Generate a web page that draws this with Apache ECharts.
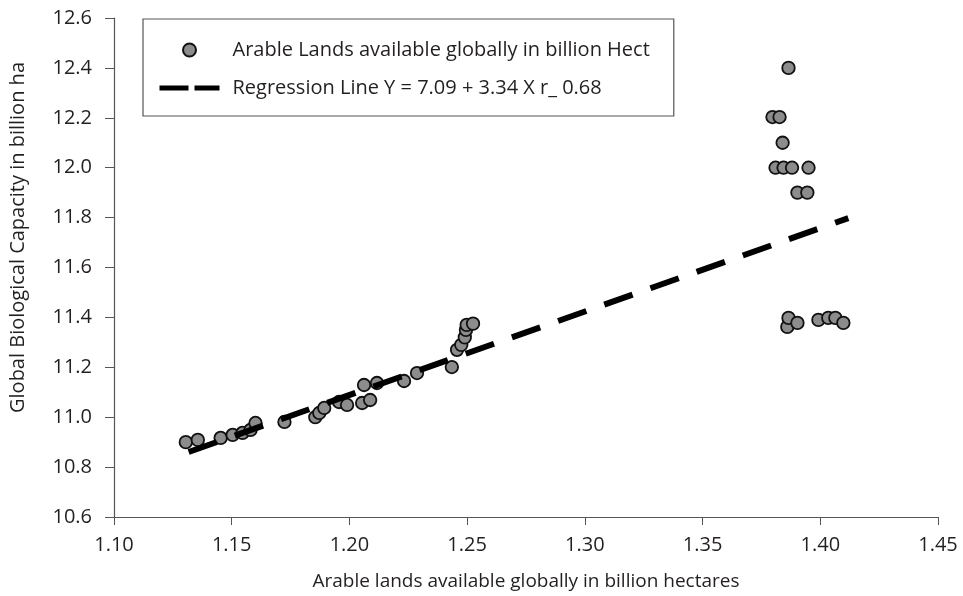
<!DOCTYPE html>
<html>
<head>
<meta charset="utf-8">
<title>Arable lands vs biological capacity</title>
<script src="https://cdn.jsdelivr.net/npm/echarts@6/dist/echarts.min.js"></script>
<style>
  html, body { margin: 0; padding: 0; background: #fff; }
  #chart { width: 963px; height: 596px; }
</style>
</head>
<body>
<div id="chart"></div>
<script>
// observed points (billion hectares, billion ha)
const arableLand = [
  1.1305, 1.1356, 1.1453, 1.1504, 1.1546, 1.1580, 1.1601, 1.1724,
  1.1855, 1.1872, 1.1893, 1.1956, 1.1990, 1.2054, 1.2088, 1.2062,
  1.2117, 1.2232, 1.2287, 1.2435, 1.2457, 1.2475, 1.2490, 1.2495,
  1.2498, 1.2525,
  1.3865, 1.3797, 1.3827, 1.3840, 1.3810, 1.3844, 1.3880, 1.3950,
  1.3903, 1.3945, 1.3860, 1.3865, 1.3903, 1.3992, 1.4034, 1.4064, 1.4098
]
const bioCapacity = [
  10.900, 10.909, 10.917, 10.929, 10.937, 10.949, 10.977, 10.981,
  11.000, 11.017, 11.037, 11.061, 11.049, 11.057, 11.069, 11.129,
  11.137, 11.145, 11.177, 11.201, 11.270, 11.290, 11.320, 11.350,
  11.370, 11.375,
  12.400, 12.203, 12.203, 12.100, 12.000, 12.000, 12.000, 12.000,
  11.900, 11.900, 11.362, 11.398, 11.378, 11.390, 11.398, 11.398, 11.378
]
// regression line end points as drawn
const regX = [1.1317, 1.4119]
const regY = [10.8605, 11.798]

const scatterName = 'Arable Lands available globally in billion Hect'
const lineName = 'Regression Line Y = 7.09 + 3.34 X r_ 0.68'

const FONT = 'Open Sans'
const TEXT = '#231f20'

const chart = echarts.init(document.getElementById('chart'), null, { renderer: 'canvas' })

chart.setOption({
  animation: false,
  backgroundColor: '#fff',
  textStyle: { fontFamily: FONT, color: TEXT },
  grid: { left: 111, right: 25, top: 18, bottom: 79 },
  legend: {
    orient: 'vertical',
    left: 143,
    top: 19,
    padding: [21, 24, 18, 14],
    itemWidth: 60,
    itemHeight: 13,
    itemGap: 18,
    selectedMode: false,
    backgroundColor: '#fff',
    borderColor: '#555',
    borderWidth: 1.2,
    textStyle: { fontFamily: FONT, fontSize: 20, color: TEXT, padding: [0, 0, 0, 8] },
    data: [
      { name: scatterName },
      {
        name: lineName,
        lineStyle: { type: [29, 6], width: 5, color: '#000' },
        itemStyle: { color: 'transparent', borderColor: 'transparent', borderWidth: 0 }
      }
    ]
  },
  xAxis: {
    type: 'value',
    min: 1.10,
    max: 1.45,
    interval: 0.05,
    name: 'Arable lands available globally in billion hectares',
    nameLocation: 'middle',
    nameGap: 55,
    nameTextStyle: { fontFamily: FONT, fontSize: 19, color: TEXT },
    axisLine: { lineStyle: { color: '#555', width: 1.2 } },
    axisTick: { length: 8, lineStyle: { color: '#555' } },
    axisLabel: {
      fontFamily: FONT, fontSize: 20, color: TEXT, margin: 18,
      formatter: v => v.toFixed(2)
    },
    splitLine: { show: false }
  },
  yAxis: {
    type: 'value',
    min: 10.6,
    max: 12.6,
    interval: 0.2,
    name: 'Global Biological Capacity in billion ha',
    nameLocation: 'middle',
    nameRotate: 90,
    nameGap: 86,
    nameTextStyle: { fontFamily: FONT, fontSize: 20, color: TEXT, padding: [0, 0, 0, 60] },
    axisLine: { show: true, lineStyle: { color: '#555', width: 1.2 } },
    axisTick: { show: true, length: 9, lineStyle: { color: '#555' } },
    axisLabel: {
      fontFamily: FONT, fontSize: 20, color: TEXT, margin: 22,
      formatter: v => v.toFixed(1)
    },
    splitLine: { show: false }
  },
  series: [
    {
      name: scatterName,
      type: 'scatter',
      symbol: 'circle',
      symbolSize: 12.5,
      symbolKeepAspect: true,
      itemStyle: { color: '#8c8c8c', borderColor: '#111', borderWidth: 1.8, opacity: 1 },
      data: arableLand.map((x, i) => [x, bioCapacity[i]])
    },
    {
      name: lineName,
      type: 'line',
      symbol: 'none',
      color: '#000',
      lineStyle: { color: '#000', width: 6, type: [30, 19], dashOffset: 0, cap: 'butt' },
      data: regX.map((x, i) => [x, regY[i]])
    }
  ]
})
</script>
</body>
</html>
